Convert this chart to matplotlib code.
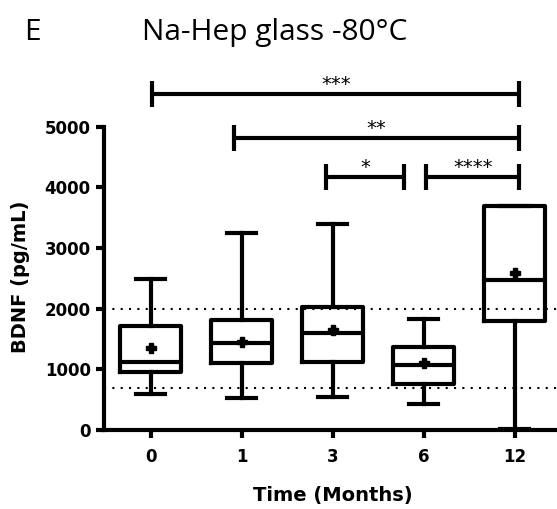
import matplotlib
matplotlib.use("Agg")
import matplotlib.pyplot as plt

# BDNF per storage time, box stats read as (whislo, q1, med, q3, whishi, mean)
months = ["0", "1", "3", "6", "12"]
whislo = [600, 525, 540, 430, 15]
q1 = [950, 1100, 1125, 760, 1800]
med = [1115, 1430, 1605, 1070, 2475]
q3 = [1720, 1815, 2035, 1375, 3685]
whishi = [2490, 3240, 3390, 1825, 3690]
means = [1345, 1455, 1648, 1100, 2585]

# reference range lines
ref_lines = [2000, 700]

# significance brackets: (x start, x end, y, label)
sig_x0 = [0.02, 0.92, 1.93, 3.03]
sig_x1 = [4.05, 4.05, 2.79, 4.05]
sig_y = [5535, 4810, 4175, 4175]
sig_text = ["***", "**", "*", "****"]

W, H = 557, 509
fig = plt.figure(figsize=(W / 100, H / 100), dpi=100)
ax = fig.add_axes([104 / W, 1 - 430 / H, (W - 104) / W, 303.3 / H])

lw = 3.0
stats = []
for i in range(len(months)):
    stats.append(dict(whislo=whislo[i], q1=q1[i], med=med[i], q3=q3[i],
                      whishi=whishi[i], mean=means[i], fliers=[]))

pos = list(range(len(months)))
ax.bxp(stats, positions=pos, widths=0.67, capwidths=0.32,
       showmeans=True, showfliers=False,
       boxprops=dict(color="black", linewidth=lw),
       medianprops=dict(color="black", linewidth=lw),
       whiskerprops=dict(color="black", linewidth=lw),
       capprops=dict(color="black", linewidth=lw),
       meanprops=dict(marker="P", markerfacecolor="black",
                      markeredgecolor="black", markersize=7.5))

for y in ref_lines:
    ax.axhline(y, color="black", linewidth=1.5, linestyle=(0, (1, 3)), zorder=0)

cap = 215
for x0, x1, y, t in zip(sig_x0, sig_x1, sig_y, sig_text):
    ax.plot([x0, x1], [y, y], color="black", lw=lw, clip_on=False,
            solid_capstyle="butt")
    for x in (x0, x1):
        ax.plot([x, x], [y - cap, y + cap], color="black", lw=lw,
                clip_on=False, solid_capstyle="butt")
    ax.annotate(t, ((x0 + x1) / 2, y), xytext=(0, 3), textcoords="offset points",
                ha="center", va="baseline", fontsize=14,
                fontfamily="DejaVu Sans", annotation_clip=False)

ax.set_xlim(-0.512, 4.466)
ax.set_ylim(0, 5000)
ax.set_xticks(pos)
ax.set_xticklabels(months)
ax.set_yticks([0, 1000, 2000, 3000, 4000, 5000])

for s in ["top", "right"]:
    ax.spines[s].set_visible(False)
for s in ["left", "bottom"]:
    ax.spines[s].set_linewidth(lw)

ax.tick_params(axis="both", width=lw, length=5.5, labelsize=12, pad=4)
ax.tick_params(axis="x", pad=7.5)
for lab in ax.get_xticklabels() + ax.get_yticklabels():
    lab.set_fontweight("bold")
    lab.set_fontfamily("DejaVu Sans")

ax.set_xlabel("Time (Months)", fontsize=14, fontweight="bold",
              fontfamily="DejaVu Sans")
ax.xaxis.set_label_coords(0.5044, -0.185)
fig.text(20.5 / W, 1 - 276.5 / H, "BDNF (pg/mL)", rotation=90,
         ha="center", va="center", fontsize=14, fontweight="bold",
         fontfamily="DejaVu Sans")

fig.text(24 / W, 1 - 40 / H, "E", fontsize=21.5, fontfamily="Open Sans",
         va="baseline")
fig.text(142.5 / W, 1 - 40 / H, "Na-Hep glass -80°C", fontsize=21.5,
         fontfamily="Open Sans", va="baseline")

fig.savefig("out.png", dpi=100)
